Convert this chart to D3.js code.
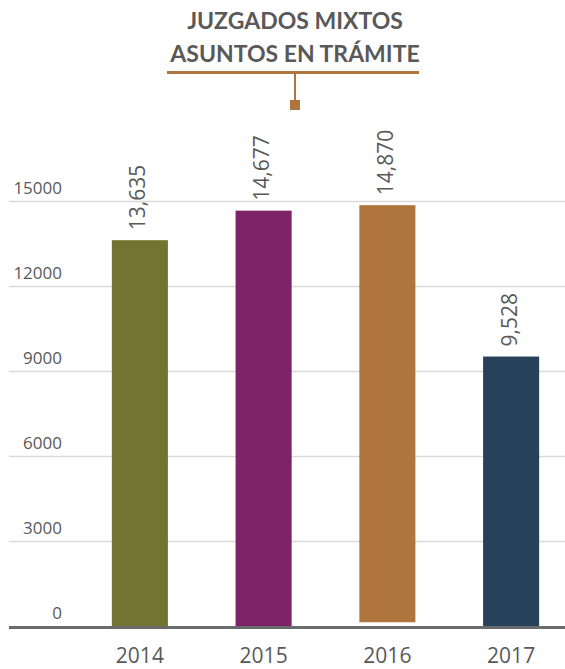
<!DOCTYPE html>
<html>
<head>
<meta charset="utf-8">
<script src="https://cdn.jsdelivr.net/npm/d3@7"></script>
<style>
  html, body { margin: 0; padding: 0; background: #fff; }
  svg { display: block; }
</style>
</head>
<body>
<svg id="chart" width="565" height="669"></svg>
<script>
// ---- data ----
const years = ["2014", "2015", "2016", "2017"];
const asuntos = [13635, 14677, 14870, 9528];
const barBase = [0, 0, 150, 0];
const barColors = ["#737431", "#7E2367", "#B0753E", "#28415A"];
const yTicks = [0, 3000, 6000, 9000, 12000, 15000];
const titleLines = ["JUZGADOS MIXTOS", "ASUNTOS EN TRÁMITE"];

const svg = d3.select("#chart");
const W = 565, H = 669;

const y = d3.scaleLinear().domain([0, 15000]).range([626.5, 201.5]);
const x = d3.scaleBand().domain(years).range([78, 573]).paddingInner(0.547).paddingOuter(0.2735);

const fmt = d3.format(",");

// gridlines
const grid = svg.append("g");
grid.selectAll("line").data(yTicks.filter(d => d > 0)).join("line")
  .attr("x1", 9).attr("x2", W)
  .attr("y1", d => y(d)).attr("y2", d => y(d))
  .attr("stroke", "#D9D9D9").attr("stroke-width", 1.5);

// y tick labels
svg.append("g").selectAll("text").data(yTicks).join("text")
  .attr("x", 62).attr("y", d => y(d) - 8)
  .attr("text-anchor", "end")
  .attr("font-family", "Open Sans, sans-serif")
  .attr("font-size", 17)
  .attr("fill", "#595959")
  .text(d => d);

// bars
const rows = years.map((yr, i) => ({ yr, v: asuntos[i], b: barBase[i], c: barColors[i] }));
svg.append("g").selectAll("rect").data(rows).join("rect")
  .attr("x", d => x(d.yr))
  .attr("width", x.bandwidth())
  .attr("y", d => y(d.v))
  .attr("height", d => y(d.b) - y(d.v))
  .attr("fill", d => d.c);

// value labels (rotated)
svg.append("g").selectAll("text").data(rows).join("text")
  .attr("transform", d => `translate(${x(d.yr) + x.bandwidth() / 2 - 2},${y(d.v) - 10}) rotate(-90)`)
  .attr("dy", "0.36em")
  .attr("text-anchor", "start")
  .attr("font-family", "Open Sans, sans-serif")
  .attr("font-size", 21)
  .attr("fill", "#595959")
  .text(d => fmt(d.v));

// x axis line
svg.append("line")
  .attr("x1", 9).attr("x2", W)
  .attr("y1", y(0) + 1).attr("y2", y(0) + 1)
  .attr("stroke", "#6B6B6B").attr("stroke-width", 3);

// x labels
svg.append("g").selectAll("text").data(years).join("text")
  .attr("x", d => x(d) + x.bandwidth() / 2)
  .attr("y", 663)
  .attr("text-anchor", "middle")
  .attr("font-family", "Open Sans, sans-serif")
  .attr("font-size", 21)
  .attr("fill", "#595959")
  .text(d => d);

// title
const tcx = 295;
svg.append("g").selectAll("text").data(titleLines).join("text")
  .attr("x", tcx)
  .attr("y", (d, i) => 29 + i * 33)
  .attr("text-anchor", "middle")
  .attr("font-family", "Lato, sans-serif")
  .attr("font-weight", "bold")
  .attr("font-size", 23)
  .attr("fill", "#595959")
  .text(d => d);

// title decoration
const accent = "#B0753E";
svg.append("line").attr("x1", 167).attr("x2", 419).attr("y1", 72.5).attr("y2", 72.5)
  .attr("stroke", accent).attr("stroke-width", 3);
svg.append("line").attr("x1", tcx).attr("x2", tcx).attr("y1", 72.5).attr("y2", 102)
  .attr("stroke", accent).attr("stroke-width", 2);
svg.append("rect").attr("x", tcx - 5).attr("y", 100).attr("width", 10).attr("height", 10)
  .attr("fill", accent);
</script>
</body>
</html>
